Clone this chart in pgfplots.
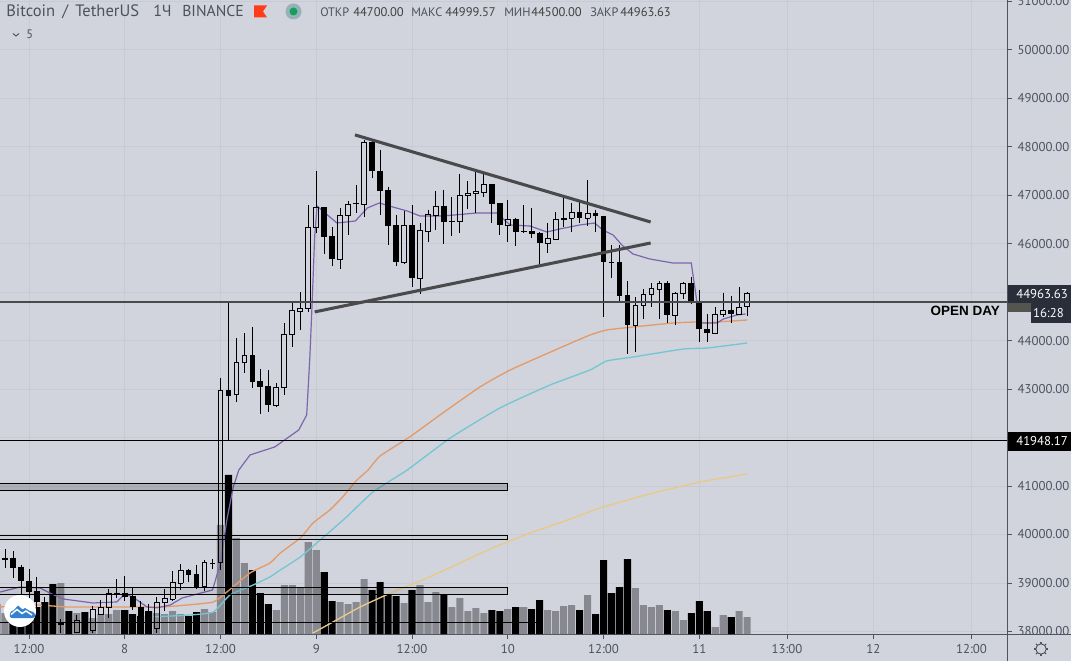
\documentclass[border=0pt]{standalone}
\usepackage{pgfplots}
\pgfplotsset{compat=1.18}
\usepackage{pgfplotstable}
\usepackage{fontspec}
\setmainfont{PT Sans}
\newfontfamily\opn{Liberation Sans}
\definecolor{bg}{HTML}{D1D4DC}
\definecolor{txt}{HTML}{4C525E}
\definecolor{gridc}{HTML}{C8CBD3}
\definecolor{axc}{HTML}{50535E}
\definecolor{volg}{HTML}{888990}
\definecolor{purp}{HTML}{7C64AE}
\definecolor{oran}{HTML}{E59A68}
\definecolor{cyanl}{HTML}{74C6D2}
\definecolor{yell}{HTML}{E8C988}
\definecolor{trend}{HTML}{4A4A4C}
\definecolor{boxd}{HTML}{2A2E3B}
\definecolor{boxg}{HTML}{555550}

% volume: i vol (height scale of the pane)
\pgfplotstableread{
i vol
-4 30
-3 21
4 51
6 21
8 16
9 20
10 20
11 24
16 21
17 20
18 23
19 20
22 25
23 22
24 109
26 96
27 71
31 24
32 49
33 49
34 46
35 92
36 84
39 32
40 30
41 32
42 55
47 31
49 49
50 32
51 42
53 27
54 36
55 23
56 26
57 21
60 25
62 27
65 24
66 23
67 28
68 29
70 39
76 46
77 29
78 27
79 29
81 23
82 14
86 7
87 19
89 23
90 17
}\volup
\pgfplotstableread{
i vol
-2 30
-1 26
0 24
1 27
2 32
3 50
5 23
7 22
12 24
13 20
14 18
15 23
20 18
21 22
25 159
28 64
29 41
30 30
37 62
38 33
43 44
44 52
45 40
46 38
48 44
52 39
58 24
59 23
61 27
63 25
64 34
69 24
71 20
72 74
73 41
74 47
75 75
80 24
83 21
84 33
85 23
88 17
}\voldown

% rising candles
\pgfplotstableread{
i o h l c
6 37980 38340 37960 38237
8 38031 38526 37960 38464
9 38361 38650 38340 38505
10 38505 38876 38278 38794
11 38780 39082 38691 38794
16 38052 38711 37969 38588
17 38588 38876 38423 38691
18 38670 39247 38629 39021
19 39000 39392 38856 39268
22 38938 39474 38835 39433
23 39400 39495 39289 39412
24 39433 43227 39268 42980
26 42897 44052 42732 43557
27 43557 44155 43330 43701
31 42670 43124 42629 43041
32 43041 44361 42877 44134
33 44134 44794 43866 44629
34 44608 45000 44217 44670
35 44670 46794 44588 46341
36 46341 47496 46217 46753
39 45681 46733 45475 46589
40 46589 46877 46176 46815
41 46820 47207 46630 46836
42 46815 48135 46547 48094
47 45619 46671 45578 46382
49 45289 46423 44959 46279
50 46258 46692 46031 46609
51 46589 47083 46279 46774
53 46450 46959 46155 46465
54 46465 47434 46217 47000
55 47000 47289 46712 47042
56 47042 47475 46630 47083
57 47062 47454 46959 47227
60 46382 46898 46031 46506
62 46245 46794 46217 46258
65 46011 46423 45805 46114
66 46093 46650 46093 46506
67 46506 46959 46341 46526
68 46526 46836 46238 46650
70 46526 47310 46361 46630
76 44320 44897 43763 44732
77 44732 45062 44443 44959
78 44959 45186 44691 45083
79 45062 45227 44443 45186
81 44526 45000 44320 44980
82 44980 45207 44856 45186
86 44155 44691 44155 44547
87 44547 44980 44485 44629
89 44547 45104 44547 44691
90 44700 44999.57 44500 44963.63
}\candleup

% falling candles
\pgfplotstableread{
i o h l c
-3 39516 39701 39309 39474
-2 39516 39660 39103 39309
-1 39330 39371 38711 39041
0 39041 39289 38588 38814
1 38835 39124 38402 38608
2 38608 38711 38093 38278
3 38278 38443 38000 38134
4 38196 38258 37969 38134
5 38237 38340 37960 38072
7 38278 38381 37960 38031
12 38794 39144 38629 38711
13 38732 38918 38443 38505
14 38505 38629 38196 38299
15 38423 38567 37960 38031
20 39268 39289 39021 39165
21 39186 39371 38876 38918
25 42980 44794 41949 42856
28 43701 44279 43021 43145
29 43165 43413 42485 43041
30 43062 43392 42526 42670
37 46753 46753 45784 46134
38 46155 46341 45537 45681
43 48094 48135 47351 47496
44 47496 47929 46589 47083
45 47104 47165 45969 46361
46 46382 46589 45537 45619
48 46382 46794 45104 45289
52 46774 47104 45990 46444
58 47227 47227 46423 46815
59 46836 46836 46176 46382
61 46506 46526 45949 46238
63 46258 46733 46114 46196
64 46217 46238 45578 46011
69 46650 46856 46423 46526
71 46630 46692 46238 46568
72 46568 46568 44485 45619
73 45619 45969 45289 45600
74 45619 45969 44794 44918
75 44939 45227 43722 44320
80 45186 45227 44361 44526
83 45186 45310 44753 44794
84 44794 45042 43969 44237
85 44237 44547 43969 44155
88 44629 44918 44361 44547
}\candledown

\pgfplotsset{
  base/.style={
    at={(0pt,20.25pt)},anchor=south west,
    scale only axis,width=755.25pt,height=475.5pt,
    xmin=-3.63,xmax=122.56,
  },
  ebar/.style={
    draw=none,mark=none,forget plot,
    error bars/.cd,y dir=minus,y explicit,error mark=none,
    error bar style={draw=black,line width=#1,line cap=butt},
  },
  ebar/.default=.7pt,
  xbar cap/.style={
    draw=none,mark=none,forget plot,
    error bars/.cd,x dir=both,x fixed=0.36,error mark=none,
    error bar style={draw=black,line width=.7pt},
  },
}

\begin{document}
\begin{tikzpicture}
\useasboundingbox (0,0) rectangle (803.25pt,495.75pt);
\fill[bg] (0,0) rectangle (803.25pt,495.75pt);

% grid, scales
\begin{axis}[base,
  ymin=37948,ymax=51022,
  axis x line*=bottom,axis y line*=right,
  xtick={0,12,24,36,48,60,72,84,95,105.8,118.1},
  xticklabels={12:00,8,12:00,9,12:00,10,12:00,11,13:00,12,12:00},
  ytick={38000,39000,40000,41000,43000,44000,46000,47000,48000,49000,50000,51000},
  extra y ticks={42000,45000},
  extra y tick labels={},
  scaled y ticks=false,
  grid=major,
  grid style={gridc,line width=.5pt},
  tick align=outside,
  major tick length=3.5pt,
  tick style={axc,line width=.6pt},
  axis line style={axc,line width=.75pt,-},
  ticklabel style={font=\fontsize{9.6}{11}\selectfont,text=txt},
  xticklabel style={yshift=-1pt},
  yticklabel style={anchor=west,xshift=1pt,/pgf/number format/.cd,fixed,fixed zerofill,precision=2,1000 sep={},assume math mode=true},
]
\end{axis}

% volume
\begin{axis}[base,hide axis,ymin=0,ymax=634]
\addplot[ybar,bar width=5.3pt,bar shift=0pt,fill=volg,draw=none] table[x=i,y=vol]{\volup};
\addplot[ybar,bar width=5.3pt,bar shift=0pt,fill=black,draw=none] table[x=i,y=vol]{\voldown};
\end{axis}

% prices
\begin{axis}[base,hide axis,ymin=37948,ymax=51022]
% moving averages
\addplot[yell,line width=1pt,smooth,tension=.3] coordinates {(35.6,37970)(38.1,38196)(41.5,38505)(45.6,38814)(49.9,39103)(54,39412)(58.1,39722)(62.8,40031)(66.5,40237)(71.6,40547)(78.2,40856)(84.1,41083)(90,41248)};
\addplot[cyanl,line width=1pt,smooth,tension=.3] coordinates {(15.2,38299)(20.2,38340)(23.1,38402)(25.2,38753)(28.1,38959)(30.2,39124)(31.5,39268)(34,39536)(36.5,39887)(39.8,40361)(43.1,40876)(47.4,41330)(52.8,41990)(59,42608)(65.3,43083)(70.3,43392)(72.4,43578)(75.7,43660)(82,43825)(85,43846)(90,43949)};
\addplot[oran,line width=1pt,smooth,tension=.3] coordinates {(-3.6,38505)(1,38546)(4.8,38505)(10.2,38505)(16.4,38505)(19.8,38546)(23.1,38608)(24.8,38814)(27.7,39206)(30.2,39412)(31.5,39619)(34,39928)(35.6,40237)(37.7,40505)(39.3,40773)(41.1,41124)(42.5,41330)(44,41619)(47.7,42010)(51.5,42464)(56.5,43041)(60.3,43392)(66.5,43845)(70.3,44113)(72.4,44217)(75.7,44279)(80.7,44361)(83.7,44382)(85,44361)(86.2,44382)(90,44423)};
\addplot[purp,line width=.9pt] coordinates {(-3.6,38814)(-1.1,38918)(1.4,38897)(2.6,38794)(4.3,38670)(8,38588)(11,38608)(12,38773)(13,38711)(14.8,38505)(16,38487)(17.7,38546)(19.2,38691)(23,38856)(24,39412)(24.8,40299)(25.6,40980)(26.3,41330)(27.7,41640)(30.8,41805)(33.8,42155)(34.8,42464)(35.2,43660)(35.5,44835)(35.8,46134)(36.1,46774)(37.1,46630)(38.6,46423)(40.9,46465)(42.4,46733)(43.9,46836)(45.6,46753)(47.4,46671)(49,46568)(51.9,46568)(56.1,46630)(58.6,46630)(60.3,46382)(62.8,46361)(64.9,46238)(66.5,46300)(69,46382)(70.9,46423)(71.9,46279)(73.2,46176)(74.3,45969)(75.7,45784)(77.8,45681)(80.7,45598)(83,45598)(83.7,44794)(84.1,44361)(85,44361)(86.2,44361)(87,44443)(88.7,44526)(89.8,44547)};

% falling candles: wick and solid body
\addplot[ebar] table[x=i,y=h,y error expr=\thisrow{h}-\thisrow{l}]{\candledown};
\addplot[ebar=4.35pt] table[x=i,y=o,y error expr=\thisrow{o}-\thisrow{c}]{\candledown};
% rising candles: wick above and below, open body
\addplot[ebar] table[x=i,y=h,y error expr=\thisrow{h}-\thisrow{c}]{\candleup};
\addplot[ebar] table[x=i,y=o,y error expr=\thisrow{o}-\thisrow{l}]{\candleup};
\addplot[ebar] table[x expr=\thisrow{i}-0.3,y=c,y error expr=\thisrow{c}-\thisrow{o}]{\candleup};
\addplot[ebar] table[x expr=\thisrow{i}+0.3,y=c,y error expr=\thisrow{c}-\thisrow{o}]{\candleup};
\addplot[xbar cap] table[x=i,y=c]{\candleup};
\addplot[xbar cap] table[x=i,y=o]{\candleup};

% drawn levels
\addplot[black,line width=.65pt,fill=black,fill opacity=.17] coordinates {(-4,41052)(59.9,41052)(59.9,40907)(-4,40907)} -- cycle;
\addplot[black,line width=.65pt,fill=black,fill opacity=.03] coordinates {(-4,39990)(59.9,39990)(59.9,39907)(-4,39907)} -- cycle;
\addplot[black,line width=.65pt,fill=black,fill opacity=.07] coordinates {(-4,38918)(59.9,38918)(59.9,38773)(-4,38773)} -- cycle;
\addplot[black,line width=.65pt] coordinates {(-4,38196)(63.5,38196)};
\addplot[black,line width=.7pt] coordinates {(-4,41949)(123,41949)};
\addplot[trend,line width=1.3pt] coordinates {(-4,44794)(123,44794)};
\addplot[trend,line width=2.3pt] coordinates {(40.85,48240)(77.9,46444)};
\addplot[trend,line width=2.3pt] coordinates {(35.8,44590)(77.9,46011)};
\end{axis}

% chart furniture, in pixels from the top left corner
\begin{scope}[x=.75pt,y=-.75pt,yshift=495.75pt]
\fill[bg] (1007.5,634.5) rectangle (1071,661);
\draw[axc,line width=.75pt] (1007,634) -- (1071,634);
\draw[axc,line width=.75pt] (1007,634) -- (1007,661);
% gear
\draw[axc,line width=.7pt] (1041,649) circle (5.2);
\foreach \a in {0,45,...,315} \draw[axc,line width=.8pt] (1041,649)++(\a:5.2) -- ++(\a:2);
% header
\node[anchor=base west,inner sep=0,text=txt,font=\fontsize{12.4}{14}\selectfont] at (6,17) {Bitcoin \,/\, TetherUS};
\node[anchor=base west,inner sep=0,text=txt,font=\fontsize{12}{14}\selectfont] at (153,17) {1Ч};
\node[anchor=base west,inner sep=0,text=txt,font=\fontsize{11.8}{14}\selectfont] at (182,17) {BINANCE};
\fill[red!70!orange!90!white] (254,5.5) -- (267,5.5) -- (263,11.5) -- (267,17.5) -- (254,17.5) -- cycle;
\fill[black!10!bg!80!teal] (293.5,11.5) circle (8);
\fill[teal!70!green!85!gray] (293.5,11.5) circle (4);
\node[anchor=base west,inner sep=0,text=txt,font=\fontsize{9.2}{11}\selectfont] at (320,17) {ОТКР};
\node[anchor=base west,inner sep=0,text=black!75,font=\fontsize{9.4}{11}\selectfont] at (353,17) {44700.00};
\node[anchor=base west,inner sep=0,text=txt,font=\fontsize{9.2}{11}\selectfont] at (411,17) {МАКС};
\node[anchor=base west,inner sep=0,text=black!75,font=\fontsize{9.4}{11}\selectfont] at (445,17) {44999.57};
\node[anchor=base west,inner sep=0,text=txt,font=\fontsize{9.2}{11}\selectfont] at (504,17) {МИН};
\node[anchor=base west,inner sep=0,text=black!75,font=\fontsize{9.4}{11}\selectfont] at (531,17) {44500.00};
\node[anchor=base west,inner sep=0,text=txt,font=\fontsize{9.2}{11}\selectfont] at (590,17) {ЗАКР};
\node[anchor=base west,inner sep=0,text=black!75,font=\fontsize{9.4}{11}\selectfont] at (620,17) {44963.63};
\draw[txt,line width=.7pt] (13,33.5) -- (16,36) -- (19,33.5);
\node[anchor=base west,inner sep=0,text=txt,font=\fontsize{9.2}{11}\selectfont] at (26,39) {5};
% price labels
\fill[boxg] (1007.5,303) rectangle (1032,312);
\fill[boxd] (1007.5,285) rectangle (1071,303);
\node[anchor=base west,inner sep=0,text=white!92!bg,font=\fontsize{9.6}{11}\selectfont] at (1016,299) {44963.63};
\fill[boxd] (1031,303) rectangle (1071,323);
\node[anchor=base east,inner sep=0,text=white!92!bg,font=\fontsize{9.6}{11}\selectfont] at (1064,318) {16:28};
\fill[black] (1007.5,432) rectangle (1071,451);
\node[anchor=base west,inner sep=0,text=white,font=\fontsize{9.6}{11}\selectfont] at (1016,446) {41948.17};
\node[anchor=base east,inner sep=0,text=black,font=\opn\bfseries\fontsize{10.1}{11}\selectfont] at (1000,316) {OPEN DAY};
% logo
\fill[white] (20,611) circle (16);
\fill[cyan!55!blue!85!white] (10,617) .. controls (9,612) and (12,610) .. (14,610) -- (18,605.5) -- (22.5,609.5) -- (25,608) -- (30,611) .. controls (35,611) and (37,617) .. (33,618) -- (12,618) -- cycle;
\draw[white,line width=1.1pt] (11,614.5) -- (17,609.5) -- (22,613.5) -- (26,611) -- (32,615);
\end{scope}
\end{tikzpicture}
\end{document}
